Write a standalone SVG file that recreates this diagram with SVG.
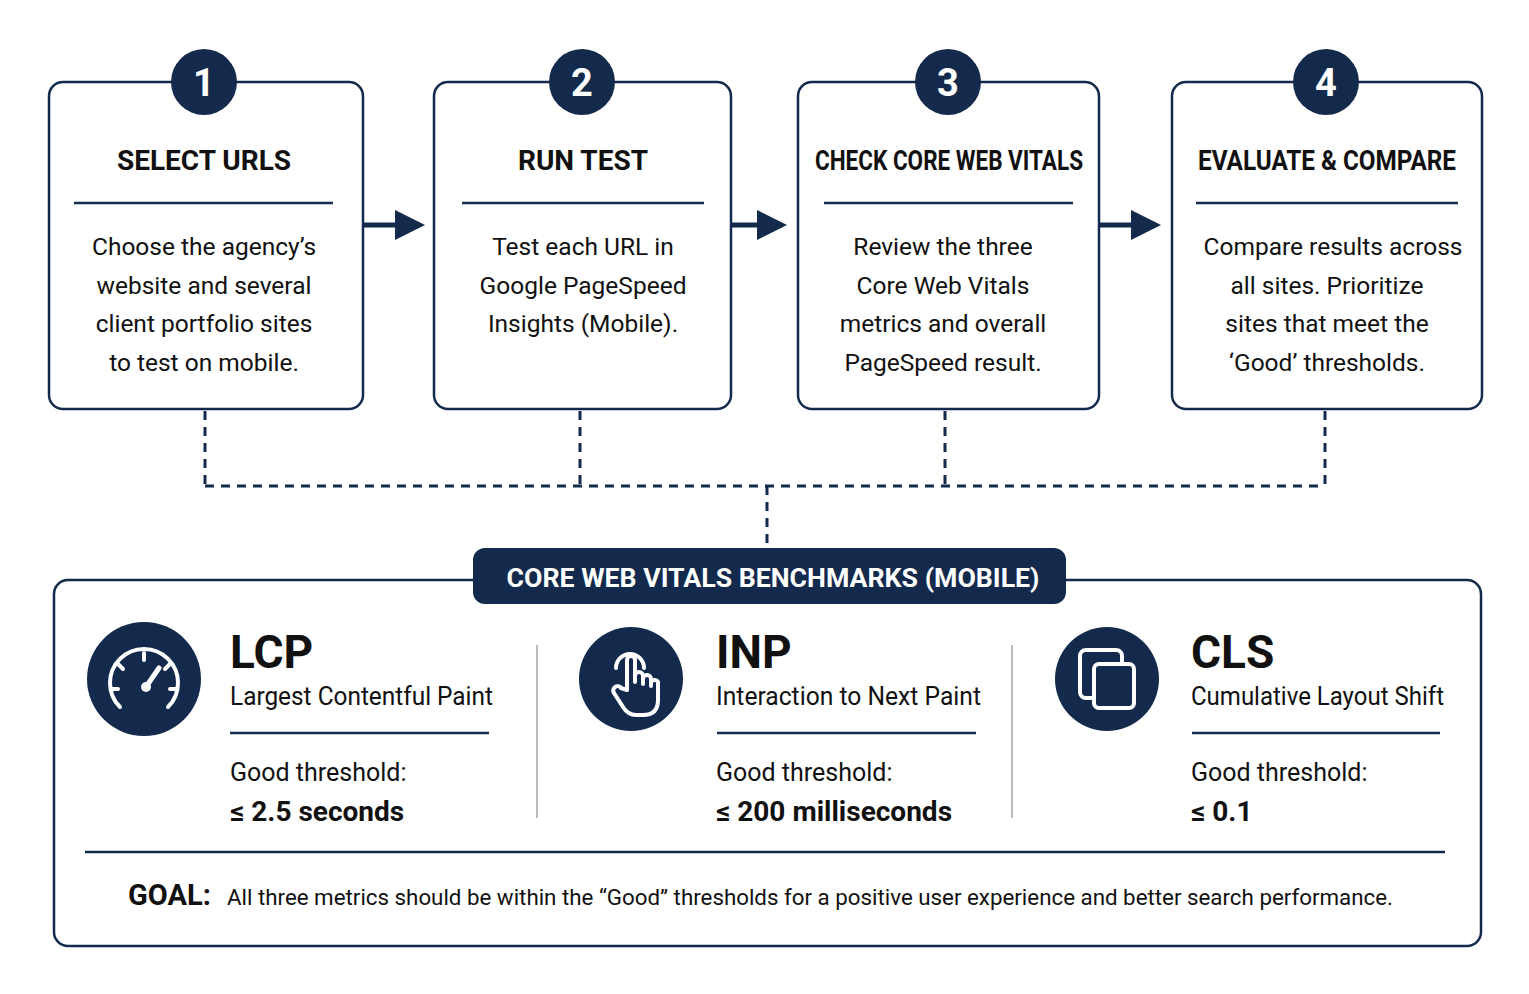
<svg xmlns="http://www.w3.org/2000/svg" width="1529" height="994" viewBox="0 0 1529 994">
<style>
.box{fill:#fff;stroke:#132a4c;stroke-width:2.5}
.nav{fill:#132a4c}
.t{font-family:Roboto,"Liberation Sans",sans-serif;fill:#111;text-anchor:middle}
.h{font-weight:bold;font-size:28px}
.b{font-size:24.5px}
.num{font-family:Roboto,"Liberation Sans",sans-serif;font-weight:bold;font-size:38px;fill:#fff;text-anchor:middle}
.dv{stroke:#132a4c;stroke-width:2.5}
.dash{fill:none;stroke:#132a4c;stroke-width:3;stroke-dasharray:9 7}
.l{font-family:Roboto,"Liberation Sans",sans-serif;fill:#111}
.ic{fill:none;stroke:#fff;stroke-width:4;stroke-linecap:round;stroke-linejoin:round}
</style>
<defs><marker id="ah" markerWidth="6" markerHeight="6" refX="5" refY="3" orient="auto" markerUnits="strokeWidth"><path d="M0,0L6,3L0,6z" fill="#132a4c"/></marker></defs>
<rect width="1529" height="994" fill="#fff"/>
<g id="connectors">
<line x1="363" y1="225" x2="420" y2="225" stroke="#132a4c" stroke-width="5" marker-end="url(#ah)"/>
<line x1="731" y1="225" x2="782" y2="225" stroke="#132a4c" stroke-width="5" marker-end="url(#ah)"/>
<line x1="1099" y1="225" x2="1156" y2="225" stroke="#132a4c" stroke-width="5" marker-end="url(#ah)"/>
<path class="dash" d="M205,411V486M580,411V486M945,411V486M1325,411V486M205,486H1325M767,486V548"/>
</g>
<g id="step1">
<rect class="box" x="49" y="82" width="314" height="327" rx="14"/>
<circle class="nav" cx="204" cy="82" r="33"/><text class="num" x="204" y="96">1</text>
<text class="t h" x="204" y="170">SELECT URLS</text>
<line class="dv" x1="74" y1="203" x2="333" y2="203"/>
<text class="t b" x="204" y="255">Choose the agency’s</text>
<text class="t b" x="204" y="294">website and several</text>
<text class="t b" x="204" y="332">client portfolio sites</text>
<text class="t b" x="204" y="371">to test on mobile.</text>
</g>
<g id="step2">
<rect class="box" x="434" y="82" width="297" height="327" rx="14"/>
<circle class="nav" cx="582" cy="82" r="33"/><text class="num" x="582" y="96">2</text>
<text class="t h" x="583" y="170">RUN TEST</text>
<line class="dv" x1="462" y1="203" x2="704" y2="203"/>
<text class="t b" x="583" y="255">Test each URL in</text>
<text class="t b" x="583" y="294">Google PageSpeed</text>
<text class="t b" x="583" y="332">Insights (Mobile).</text>
</g>
<g id="step3">
<rect class="box" x="798" y="82" width="301" height="327" rx="14"/>
<circle class="nav" cx="948" cy="82" r="33"/><text class="num" x="948" y="96">3</text>
<text class="t h" x="949" y="170" textLength="268" lengthAdjust="spacingAndGlyphs">CHECK CORE WEB VITALS</text>
<line class="dv" x1="824" y1="203" x2="1073" y2="203"/>
<text class="t b" x="943" y="255">Review the three</text>
<text class="t b" x="943" y="294">Core Web Vitals</text>
<text class="t b" x="943" y="332">metrics and overall</text>
<text class="t b" x="943" y="371">PageSpeed result.</text>
</g>
<g id="step4">
<rect class="box" x="1172" y="82" width="310" height="327" rx="14"/>
<circle class="nav" cx="1326" cy="82" r="33"/><text class="num" x="1326" y="96">4</text>
<text class="t h" x="1327" y="170" textLength="258" lengthAdjust="spacingAndGlyphs">EVALUATE &amp; COMPARE</text>
<line class="dv" x1="1196" y1="203" x2="1458" y2="203"/>
<text class="t b" x="1333" y="255">Compare results across</text>
<text class="t b" x="1327" y="294">all sites. Prioritize</text>
<text class="t b" x="1327" y="332">sites that meet the</text>
<text class="t b" x="1327" y="371">‘Good’ thresholds.</text>
</g>
<g id="benchmarks">
<rect class="box" x="54" y="580" width="1427" height="366" rx="14"/>
<rect class="nav" x="473" y="548" width="593" height="56" rx="12"/>
<text x="773" y="587" font-family="Roboto,'Liberation Sans',sans-serif" font-weight="bold" font-size="25" fill="#fff" text-anchor="middle" textLength="533" lengthAdjust="spacingAndGlyphs">CORE WEB VITALS BENCHMARKS (MOBILE)</text>
<line x1="537" y1="645" x2="537" y2="818" stroke="#bbb" stroke-width="2"/>
<line x1="1012" y1="645" x2="1012" y2="818" stroke="#bbb" stroke-width="2"/>
<line class="dv" x1="85" y1="852" x2="1445" y2="852"/>
<text class="l" x="128" y="905" font-weight="bold" font-size="29">GOAL:</text>
<text class="l" x="227" y="905" font-size="22.5" textLength="1166" lengthAdjust="spacingAndGlyphs">All three metrics should be within the “Good” thresholds for a positive user experience and better search performance.</text>
</g>
<g id="lcp">
<circle class="nav" cx="144" cy="679" r="57"/>
<path class="ic" d="M120,707A34,34 0 1 1 168,707"/>
<path class="ic" d="M144,653V660M118,664L123,669M170,664L165,669M112,689H118M176,689H170"/>
<line x1="148" y1="684" x2="159" y2="668" stroke="#fff" stroke-width="5" stroke-linecap="round"/>
<circle cx="146" cy="687" r="5" fill="#fff"/>
<text class="l" x="230" y="668" font-weight="bold" font-size="46">LCP</text>
<text class="l" x="230" y="705" font-size="25" textLength="263" lengthAdjust="spacingAndGlyphs">Largest Contentful Paint</text>
<line class="dv" x1="230" y1="733" x2="489" y2="733"/>
<text class="l" x="230" y="781" font-size="25">Good threshold:</text>
<text class="l" x="230" y="821" font-weight="bold" font-size="28">≤ 2.5 seconds</text>
</g>
<g id="inp">
<circle class="nav" cx="631" cy="679" r="52"/>
<path class="ic" d="M616,668A14,14 0 1 1 644,668"/>
<path class="ic" d="M627,690V660a4,4 0 0 1 8,0V682V676a4,4 0 0 1 8,0V684V679a4,4 0 0 1 8,0V686V682a4,4 0 0 1 7,0V700q0,15 -15,15H636q-8,0 -13,-8L614,693a4,4 0 0 1 7,-5z"/>
<text class="l" x="716" y="668" font-weight="bold" font-size="46">INP</text>
<text class="l" x="716" y="705" font-size="25" textLength="265" lengthAdjust="spacingAndGlyphs">Interaction to Next Paint</text>
<line class="dv" x1="717" y1="733" x2="976" y2="733"/>
<text class="l" x="716" y="781" font-size="25">Good threshold:</text>
<text class="l" x="716" y="821" font-weight="bold" font-size="28">≤ 200 milliseconds</text>
</g>
<g id="cls">
<circle class="nav" cx="1107" cy="679" r="52"/>
<path class="ic" d="M1092,698H1086a6,6 0 0 1 -6,-6V656a6,6 0 0 1 6,-6H1116a6,6 0 0 1 6,6V662"/>
<rect class="ic" x="1094" y="664" width="40" height="44" rx="5"/>
<text class="l" x="1191" y="668" font-weight="bold" font-size="46">CLS</text>
<text class="l" x="1191" y="705" font-size="25" textLength="253" lengthAdjust="spacingAndGlyphs">Cumulative Layout Shift</text>
<line class="dv" x1="1192" y1="733" x2="1440" y2="733"/>
<text class="l" x="1191" y="781" font-size="25">Good threshold:</text>
<text class="l" x="1191" y="821" font-weight="bold" font-size="28">≤ 0.1</text>
</g>
</svg>
